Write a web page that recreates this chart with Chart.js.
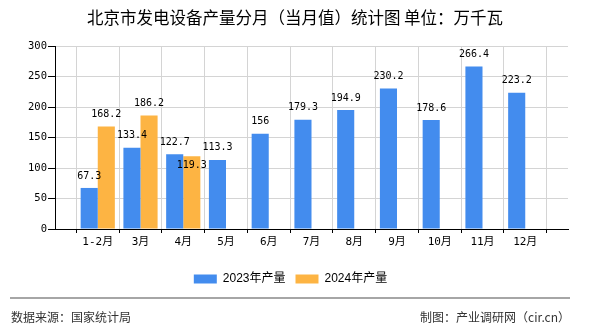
<!DOCTYPE html>
<html>
<head>
<meta charset="utf-8">
<script src="https://cdn.jsdelivr.net/npm/chart.js@4"></script>
<style>
  html, body { margin: 0; padding: 0; background: #fff; }
  #wrap { width: 590px; height: 330px; }
</style>
</head>
<body>
<div id="wrap"><canvas id="chart" width="590" height="330"></canvas></div>
<script>
const months = ['1-2月', '3月', '4月', '5月', '6月', '7月', '8月', '9月', '10月', '11月', '12月']
const output2023 = [67.3, 133.4, 122.7, 113.3, 156, 179.3, 194.9, 230.2, 178.6, 266.4, 223.2]
const output2024 = [168.2, 186.2, 119.3]
const yTicks = [0, 50, 100, 150, 200, 250, 300]

// one empty slot on each side, like the original axis
const labels = [''].concat(months, [''])
const pad = (arr) => [null].concat(months.map((m, i) => arr[i] === undefined ? null : arr[i]), [null])

const monoFont = "'DejaVu Sans Mono', 'Noto Sans CJK SC', monospace"
const cjkFont = "'Noto Sans CJK SC', sans-serif"

// numbers above bars, pushed into the bar when two would collide
const barValues = {
  id: 'barValues',
  afterDatasetsDraw(chart) {
    const ctx = chart.ctx
    ctx.save()
    ctx.font = '10px ' + monoFont
    ctx.fillStyle = '#000'
    ctx.textAlign = 'center'
    ctx.textBaseline = 'middle'
    const placed = []
    chart.data.datasets.forEach((ds, di) => {
      chart.getDatasetMeta(di).data.forEach((bar, i) => {
        const v = ds.data[i]
        if (v === null || v === undefined) return
        const txt = String(v)
        const w = ctx.measureText(txt).width
        let y = bar.y - 12
        const hit = placed.some(p => Math.abs(p.x - bar.x) < (p.w + w) / 2 && Math.abs(p.y - y) < 11)
        if (hit) y = bar.y + 9
        placed.push({ x: bar.x, y: y, w: w })
        ctx.fillText(txt, bar.x, y)
      })
    })
    ctx.restore()
  }
}

// title on top, source line at the bottom
const frame = {
  id: 'frame',
  afterDraw(chart) {
    const ctx = chart.ctx
    ctx.save()
    ctx.font = '16.5px ' + cjkFont
    ctx.fillStyle = '#000'
    ctx.textAlign = 'center'
    ctx.textBaseline = 'middle'
    ctx.fillText('北京市发电设备产量分月（当月值）统计图 单位：万千瓦', 295, 18)

    ctx.strokeStyle = '#888'
    ctx.lineWidth = 1.5
    ctx.beginPath()
    ctx.moveTo(10, 298)
    ctx.lineTo(570, 298)
    ctx.stroke()
    ctx.font = '12px ' + cjkFont
    ctx.fillStyle = '#333'
    ctx.textAlign = 'left'
    ctx.fillText('数据来源：国家统计局', 11, 317)
    ctx.textAlign = 'right'
    ctx.fillText('制图：产业调研网（cir.cn）', 570, 317)
    ctx.restore()
  }
}

new Chart(document.getElementById('chart'), {
  type: 'bar',
  data: {
    labels: labels,
    datasets: [
      {
        label: '2023年产量',
        data: pad(output2023),
        backgroundColor: '#438CEE',
        categoryPercentage: 0.8,
        barPercentage: 1.0
      },
      {
        label: '2024年产量',
        data: pad(output2024),
        backgroundColor: '#FDB443',
        categoryPercentage: 0.8,
        barPercentage: 1.0
      }
    ]
  },
  options: {
    responsive: false,
    animation: false,
    layout: { padding: { left: 0, right: 9, top: 46, bottom: 35 } },
    plugins: {
      title: { display: false },
      legend: {
        position: 'bottom',
        labels: {
          boxWidth: 23,
          boxHeight: 9,
          padding: 10,
          color: '#000',
          font: { size: 12, family: "'Liberation Sans', 'Noto Sans CJK SC', sans-serif" }
        }
      },
      tooltip: { enabled: false }
    },
    scales: {
      x: {
        offset: false,
        grid: { color: '#d4d4d4', tickColor: '#000', tickLength: 4 },
        border: { color: '#000', width: 1 },
        ticks: {
          color: '#000',
          padding: 3,
          autoSkip: false,
          maxRotation: 0,
          font: { size: 11, family: monoFont }
        },
        afterFit: (s) => { s.height = 34 }
      },
      y: {
        min: 0,
        max: 300,
        afterBuildTicks: (s) => { s.ticks = yTicks.map(v => ({ value: v })) },
        grid: { color: '#d4d4d4', tickColor: '#000', tickLength: 7 },
        border: { color: '#000', width: 1 },
        ticks: {
          color: '#000',
          padding: 1,
          font: { size: 10.5, family: monoFont }
        },
        afterFit: (s) => { s.width = 55 }
      },
      // empty strip on the right so the plot ends where the original does
      yRight: {
        position: 'right',
        min: 0,
        max: 300,
        grid: { display: false, drawTicks: false },
        border: { display: false },
        ticks: { display: false },
        afterFit: (s) => { s.width = 13 }
      }
    }
  },
  plugins: [barValues, frame]
});
</script>
</body>
</html>
